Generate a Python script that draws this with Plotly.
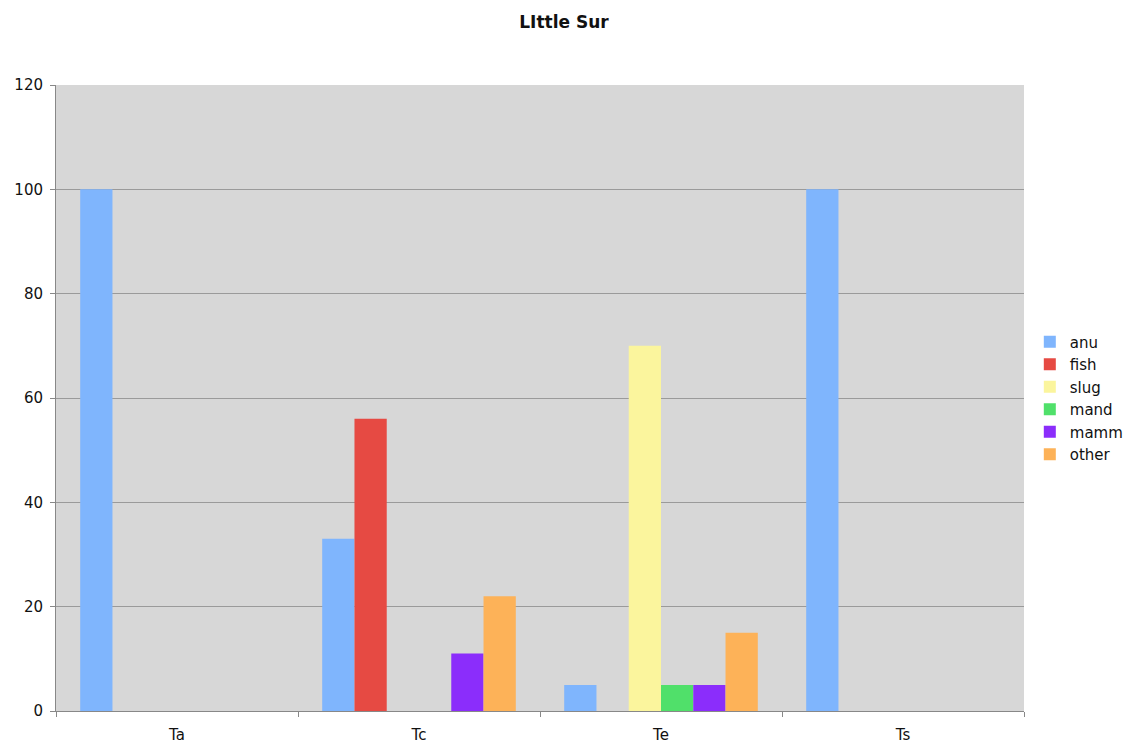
import plotly.graph_objects as go

categories = ["Ta", "Tc", "Te", "Ts"]
series_names = ["anu", "fish", "slug", "mand", "mamm", "other"]
anu = [100, 33, 5, 100]
fish = [0, 56, 0, 0]
slug = [0, 0, 70, 0]
mand = [0, 0, 5, 0]
mamm = [0, 11, 5, 0]
other = [0, 22, 15, 0]
values = [anu, fish, slug, mand, mamm, other]
colors = ["#7fb5fd", "#e64a43", "#fbf59d", "#50e06a", "#8b2dfb", "#fdb258"]

fig = go.Figure()
for name, vals, col in zip(series_names, values, colors):
    fig.add_trace(go.Bar(x=categories, y=vals, name=name, marker_color=col,
                         marker_line_width=0))

fig.update_layout(
    width=1128, height=747,
    margin=dict(l=56, r=104, t=85, b=36, autoexpand=False),
    paper_bgcolor="white",
    plot_bgcolor="#d7d7d7",
    barmode="group",
    bargap=0.2,
    bargroupgap=0,
    font=dict(family="Verdana, DejaVu Sans, sans-serif", size=15, color="#111"),
    title=dict(text="<b>LIttle Sur</b>", x=0.5, xanchor="center", y=0.97, yanchor="middle",
               font=dict(size=17, color="#111")),
    legend=dict(x=1.006, xanchor="left", y=0.5, yanchor="middle",
                font=dict(size=15), tracegroupgap=0, itemwidth=30),
    showlegend=True,
)
fig.update_xaxes(showline=True, linecolor="#888", linewidth=1,
                 ticks="outside", tickson="boundaries", ticklen=5, tickcolor="#888",
                 ticklabelstandoff=10,
                 showgrid=False, mirror=False)
fig.update_yaxes(range=[0, 120], dtick=20, showgrid=True, gridcolor="#9a9a9a", gridwidth=1,
                 showline=True, linecolor="#888", ticks="outside", ticklen=5, tickcolor="#888",
                 ticklabelstandoff=4,
                 zeroline=False)

fig.write_html("out.html")
